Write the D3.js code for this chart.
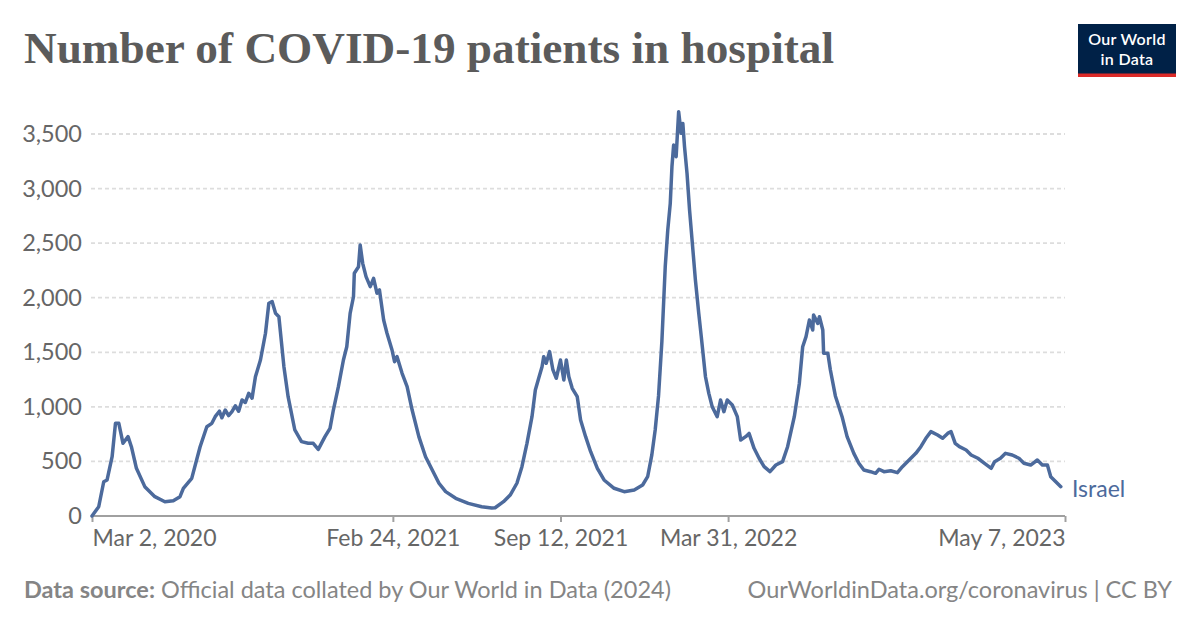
<!DOCTYPE html>
<html>
<head>
<meta charset="utf-8">
<script src="https://cdn.jsdelivr.net/npm/d3@7"></script>
<style>
  html, body { margin: 0; padding: 0; background: #fff; }
  svg { display: block; }
</style>
</head>
<body>
<svg id="chart" width="1200" height="628"></svg>
<script>
// ---- Data ----
const startDate = "2020-03-02";
const endDate = "2023-05-07";
const seriesName = "Israel";
// days since 2020-03-02
const dayOffsets = [0, 8, 14, 18, 24, 28, 32, 37, 43, 47, 53, 63, 75, 87, 97, 105, 109, 119, 129, 137, 143, 147, 152, 155, 159, 163, 167, 171, 175, 179, 183, 187, 191, 195, 201, 207, 211, 215, 219, 223, 229, 234, 242, 250, 258, 264, 270, 278, 284, 288, 294, 300, 304, 308, 312, 313, 318, 320, 323, 327, 332, 336, 340, 343, 348, 352, 358, 361, 364, 370, 376, 382, 390, 398, 406, 414, 422, 434, 449, 465, 477, 481, 491, 499, 507, 513, 519, 525, 529, 533, 537, 539, 542, 546, 550, 554, 559, 563, 566, 569, 573, 579, 583, 589, 595, 603, 611, 623, 635, 647, 657, 663, 668, 672, 676, 680, 684, 687, 690, 692, 694, 697, 700, 703, 705, 707, 710, 713, 716, 720, 724, 727, 732, 736, 740, 746, 750, 754, 758, 764, 770, 774, 780, 784, 790, 796, 802, 809, 816, 824, 830, 838, 844, 848, 852, 856, 860, 861, 866, 868, 872, 873, 878, 881, 887, 895, 901, 909, 915, 921, 929, 935, 939, 945, 953, 961, 967, 975, 983, 989, 995, 1001, 1009, 1015, 1021, 1025, 1030, 1035, 1043, 1049, 1057, 1065, 1073, 1077, 1084, 1090, 1098, 1106, 1112, 1120, 1128, 1134, 1140, 1144, 1150, 1156, 1161];
const patients = [0, 85, 314, 330, 543, 849, 849, 666, 727, 635, 437, 269, 177, 131, 140, 177, 254, 345, 635, 818, 849, 910, 960, 900, 971, 920, 956, 1010, 960, 1063, 1040, 1124, 1080, 1276, 1429, 1674, 1949, 1964, 1857, 1826, 1368, 1093, 788, 681, 666, 666, 610, 727, 803, 971, 1185, 1429, 1551, 1857, 2009, 2224, 2284, 2483, 2315, 2193, 2101, 2178, 2041, 2071, 1796, 1674, 1521, 1414, 1460, 1307, 1185, 971, 727, 543, 421, 300, 223, 162, 116, 85, 73, 76, 131, 192, 300, 452, 666, 910, 1155, 1262, 1368, 1460, 1399, 1506, 1338, 1262, 1429, 1246, 1429, 1276, 1170, 1093, 880, 727, 589, 437, 330, 254, 223, 238, 284, 360, 560, 788, 1100, 1600, 2284, 2620, 2865, 3200, 3399, 3292, 3704, 3506, 3597, 3384, 3140, 2804, 2529, 2162, 1857, 1643, 1276, 1124, 1002, 910, 1063, 956, 1063, 1017, 910, 696, 727, 757, 620, 529, 452, 406, 467, 498, 635, 910, 1215, 1551, 1643, 1796, 1704, 1842, 1765, 1826, 1704, 1491, 1491, 1340, 1100, 910, 727, 574, 483, 421, 406, 391, 428, 406, 415, 397, 452, 513, 574, 635, 712, 773, 742, 712, 757, 773, 666, 635, 605, 559, 529, 483, 437, 498, 529, 574, 559, 529, 483, 467, 513, 467, 467, 360, 314, 269];
const yTickValues = [0, 500, 1000, 1500, 2000, 2500, 3000, 3500];
const xTickDates = ["2020-03-02", "2021-02-24", "2021-09-12", "2022-03-31", "2023-05-07"];
const xTickLabels = ["Mar 2, 2020", "Feb 24, 2021", "Sep 12, 2021", "Mar 31, 2022", "May 7, 2023"];
const titleText = "Number of COVID-19 patients in hospital";
const sourceLabel = "Data source:";
const sourceText = " Official data collated by Our World in Data (2024)";
const licenseText = "OurWorldinData.org/coronavirus | CC BY";

// ---- Drawing ----
const svg = d3.select("#chart");
const parse = d3.utcParse("%Y-%m-%d");
const t0 = parse(startDate);
const data = dayOffsets.map((d, i) => ({ date: d3.utcDay.offset(t0, d), value: patients[i] }));

const x = d3.scaleUtc().domain([t0, parse(endDate)]).range([92, 1065]);
const y = d3.scaleLinear().domain([0, 3500]).range([516, 134]);

const lineColor = "#4c6a9c";
const font = "Lato, 'Noto Sans', sans-serif";

// Title
svg.append("text")
  .attr("x", 24).attr("y", 63)
  .attr("font-family", "'Liberation Serif', 'DejaVu Serif', serif")
  .attr("font-weight", "bold")
  .attr("font-size", 44)
  .attr("fill", "#5b5b5b")
  .attr("textLength", 810)
  .attr("lengthAdjust", "spacingAndGlyphs")
  .text(titleText);

// Logo
const logo = svg.append("g");
logo.append("rect").attr("x", 1078).attr("y", 24).attr("width", 98).attr("height", 53).attr("fill", "#002147");
logo.append("rect").attr("x", 1078).attr("y", 73.5).attr("width", 98).attr("height", 3.5).attr("fill", "#dc2a28");
logo.append("text").attr("x", 1127).attr("y", 45).attr("text-anchor", "middle")
  .attr("font-family", font).attr("font-size", 16).attr("font-weight", 600).attr("fill", "#fff")
  .attr("letter-spacing", 0.3).text("Our World");
logo.append("text").attr("x", 1127).attr("y", 64.5).attr("text-anchor", "middle")
  .attr("font-family", font).attr("font-size", 16).attr("font-weight", 600).attr("fill", "#fff")
  .attr("letter-spacing", 0.3).text("in Data");

// Y grid + labels
const yAxis = d3.axisLeft(y).tickValues(yTickValues).tickSize(0).tickFormat(d3.format(","));
const gy = svg.append("g").attr("transform", "translate(82,0)").call(yAxis);
gy.select(".domain").remove();
gy.selectAll("text").attr("font-family", font).attr("font-size", 23.5).attr("fill", "#666").attr("x", 0);

svg.append("g").selectAll("line")
  .data(yTickValues.filter(v => v > 0))
  .join("line")
  .attr("x1", 91).attr("x2", 1065)
  .attr("y1", d => y(d)).attr("y2", d => y(d))
  .attr("stroke", "#dddddd").attr("stroke-width", 1.8)
  .attr("stroke-dasharray", "4,3");

// X axis
const xAxis = d3.axisBottom(x)
  .tickValues(xTickDates.map(parse))
  .tickSize(6)
  .tickFormat((d, i) => xTickLabels[i]);
const gx = svg.append("g").attr("transform", "translate(0,516)").call(xAxis);
gx.select(".domain").attr("stroke", "#a0a0a0").attr("stroke-width", 2).attr("d", "M92,0H1065");
gx.selectAll(".tick line").attr("stroke", "#a0a0a0").attr("stroke-width", 2);
gx.selectAll(".tick text")
  .attr("font-family", font).attr("font-size", 23).attr("fill", "#666")
  .attr("y", 14).attr("dy", "0.71em")
  .attr("text-anchor", (d, i) => i === 0 ? "start" : (i === xTickLabels.length - 1 ? "end" : "middle"));

// Line
const line = d3.line().x(d => x(d.date)).y(d => y(d.value)).curve(d3.curveLinear);
svg.append("path")
  .datum(data)
  .attr("fill", "none")
  .attr("stroke", lineColor)
  .attr("stroke-width", 3.5)
  .attr("stroke-linejoin", "round")
  .attr("stroke-linecap", "round")
  .attr("d", line);

// Series label
const last = data[data.length - 1];
svg.append("text")
  .attr("x", x(last.date) + 7).attr("y", 497)
  .attr("font-family", font).attr("font-size", 23).attr("fill", lineColor)
  .text(seriesName);

// Footer
const foot = svg.append("text").attr("x", 24).attr("y", 598)
  .attr("font-family", font).attr("font-size", 23.5).attr("fill", "#858585");
foot.append("tspan").attr("font-weight", "bold").text(sourceLabel);
foot.append("tspan").text(sourceText);
svg.append("text").attr("x", 1172).attr("y", 598).attr("text-anchor", "end")
  .attr("font-family", font).attr("font-size", 23.5).attr("fill", "#858585")
  .text(licenseText);
</script>
</body>
</html>
